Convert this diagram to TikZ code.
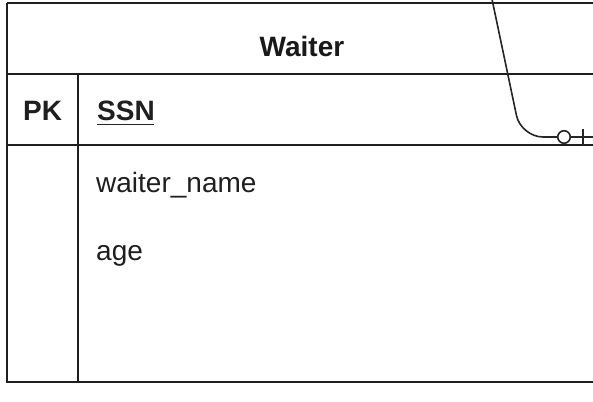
\documentclass[tikz,border=0pt]{standalone}
\usepackage{fontspec}
\setmainfont{Liberation Sans}
\begin{document}
\begin{tikzpicture}[x=1pt,y=-1pt,
  frame/.style={draw=black!88, line width=2pt},
  conn/.style={draw=black!85, line width=1.6pt},
  lbl/.style={inner sep=0pt, anchor=base west, font=\fontsize{28}{32}\selectfont, text=black!88},
  hdr/.style={inner sep=0pt, anchor=base, font=\fontsize{28}{32}\selectfont\bfseries, text=black!90}]
\useasboundingbox (0,0) rectangle (593,401);
\clip (0,0) rectangle (593,401);
\fill[white] (0,0) rectangle (593,401);
% table frame
\draw[frame] (7,3) -- (610,3);
\draw[frame] (7,3) -- (7,382) -- (610,382);
\draw[frame] (7,74) -- (610,74);
\draw[frame] (7,145) -- (610,145);
\draw[frame] (78,74) -- (78,382);
% texts
\node[hdr] (title) at (302,57) {Waiter};
\node[lbl, font=\fontsize{28}{32}\selectfont\bfseries] (pk) at (23,121) {PK};
\node[lbl, font=\fontsize{28}{32}\selectfont\bfseries] (ssn) at (97,121) {SSN};
\draw[black!85, line width=1.5pt] (ssn.base west) ++(0,3.5) -- ++(57,0);
\node[lbl] (wname) at (96,192) {waiter\_name};
\node[lbl] (age) at (96,260) {age};
% connector
\coordinate (cstart) at (489,-15);
\coordinate (cend) at (600,137);
\draw[conn, rounded corners=22pt] (cstart) -- (521,137) -- (cend);
\node[circle, draw=black!85, fill=white, line width=1.6pt, minimum size=12.5pt, inner sep=0pt] (ocirc) at (564,137) {};
\coordinate (bartop) at (583,129);
\coordinate (barbot) at (583,145);
\draw[conn] (bartop) -- (barbot);
\end{tikzpicture}
\end{document}
